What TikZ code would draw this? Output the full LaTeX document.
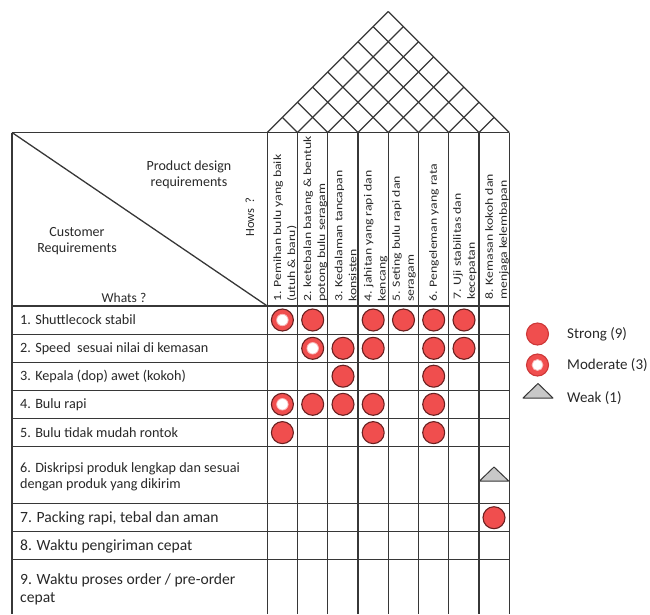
\documentclass[tikz,border=0pt]{standalone}
\usepackage{fontspec}
\setmainfont{Carlito}
\definecolor{linec}{RGB}{55,55,55}
\definecolor{redf}{RGB}{240,78,78}
\definecolor{redd}{RGB}{105,32,32}
\definecolor{redl}{RGB}{205,55,55}
\definecolor{txtc}{RGB}{40,40,40}
\definecolor{weakf}{RGB}{200,200,200}
\begin{document}
\begin{tikzpicture}[x=1pt,y=-1pt,line join=round,
  grid/.style={draw=linec,line width=1.3pt},
  strong/.style={circle,fill=redf,draw=redd,line width=1.1pt,minimum size=22pt,inner sep=0pt},
  hole/.style={circle,fill=white,draw=redf!40,line width=0.8pt,minimum size=11.5pt,inner sep=0pt},
  lstrong/.style={circle,fill=redf,draw=redl,line width=1.1pt,minimum size=22pt,inner sep=0pt},
  weak/.style={fill=weakf,draw=linec,line width=1pt},
  hdr/.style={rotate=90,xscale=1.25,anchor=west,align=left,inner sep=0pt,text=txtc,
    font=\fontsize{11}{14}\selectfont},
  rowa/.style={anchor=west,align=left,inner sep=0pt,text=txtc,font=\fontsize{14.2}{16}\selectfont},
  rowb/.style={anchor=west,align=left,inner sep=0pt,text=txtc,font=\fontsize{15.6}{18}\selectfont},
  lbl/.style={align=center,inner sep=0pt,text=txtc,font=\fontsize{14}{16}\selectfont},
  leg/.style={anchor=west,inner sep=0pt,text=txtc,font=\fontsize{15}{17}\selectfont}]
\useasboundingbox (0,0) rectangle (650,614);

% ---------- roof ----------
\foreach \i in {0,...,8}{
  \pgfmathsetmacro\xi{267.3+30.25*\i}
  \draw[grid] (\xi,132.5) -- ({(\xi+509.3)/2},{132.5-(509.3-\xi)/2});
  \draw[grid] (\xi,132.5) -- ({(\xi+267.3)/2},{132.5-(\xi-267.3)/2});
}

% ---------- grid ----------
\draw[grid] (12,132.5) -- (509.3,132.5);
\foreach \y in {306,334.3,362.3,390.3,418.3,446.7,503.3,531.7,559.3}
  \draw[grid] (12,\y) -- (509.3,\y);
\draw[grid] (12,132.5) -- (12,614);
\foreach \i in {0,...,8}{
  \pgfmathsetmacro\xi{267.3+30.25*\i}
  \draw[grid] (\xi,132.5) -- (\xi,614);
}
\draw[grid] (12,132.5) -- (267.3,306);

% ---------- corner labels ----------
\node[lbl] (pdr) at (189,175) {Product design\\requirements};
\node[lbl] (cust) at (77,241) {Customer\\Requirements};
\node[lbl,font=\fontsize{13.5}{15}\selectfont] (whats) at (124,298) {Whats ?};
\node[lbl,rotate=90,font=\fontsize{12.5}{14}\selectfont] (hows) at (250,217) {Hows\ \ ?};

% ---------- column headers ----------
\node[hdr] (h1) at (285,302) {1. Pemihan bulu yang baik\\(utuh \& baru)};
\node[hdr] (h2) at (315.3,302) {2. ketebalan batang \& bentuk\\potong bulu seragam};
\node[hdr] (h3) at (345.5,302) {3. Kedalaman tancapan\\konsisten};
\node[hdr] (h4) at (375.8,302) {4. jahitan yang rapi dan\\kencang};
\node[hdr] (h5) at (404,302) {5. Seting bulu rapi dan\\seragam};
\node[hdr] (h6) at (434,302) {6. Pengeleman yang rata};
\node[hdr] (h7) at (465,300) {7. Uji stabilitas dan\\kecepatan};
\node[hdr] (h8) at (497,300) {8. Kemasan kokoh dan\\menjaga kelembapan};

% ---------- customer requirements ----------
\node[rowa] (r1) at (20,320) {1. Shuttlecock stabil};
\node[rowa] (r2) at (20,348.5) {2. Speed\ \ sesuai nilai di kemasan};
\node[rowa] (r3) at (20,376.5) {3. Kepala (dop) awet (kokoh)};
\node[rowa] (r4) at (20,404.5) {4. Bulu rapi};
\node[rowa] (r5) at (20,432.5) {5. Bulu tidak mudah rontok};
\node[rowa] (r6) at (20,477) {6. Diskripsi produk lengkap dan sesuai\\dengan produk yang dikirim};
\node[rowb] (r7) at (20,518) {7. Packing rapi, tebal dan aman};
\node[rowb] (r8) at (20,546) {8. Waktu pengiriman cepat};
\node[rowb] (r9) at (20,589) {9. Waktu proses order / pre-order\\cepat};

% ---------- relationships ----------
% row 1
\node[strong] (a11) at (282.4,320) {}; \node[hole] (a11h) at (a11) {};
\node[strong] (a12) at (312.7,320) {};
\node[strong] (a14) at (373.2,320) {};
\node[strong] (a15) at (403.5,320) {};
\node[strong] (a16) at (433.7,320) {};
\node[strong] (a17) at (464,320) {};
% row 2
\node[strong] (a22) at (312.7,348.3) {}; \node[hole] (a22h) at (a22) {};
\node[strong] (a23) at (343,348.3) {};
\node[strong] (a24) at (373.2,348.3) {};
\node[strong] (a26) at (433.7,348.3) {};
\node[strong] (a27) at (464,348.3) {};
% row 3
\node[strong] (a33) at (343,376.2) {};
\node[strong] (a36) at (433.7,376.2) {};
% row 4
\node[strong] (a41) at (282.4,404.3) {}; \node[hole] (a41h) at (a41) {};
\node[strong] (a42) at (312.7,404.3) {};
\node[strong] (a43) at (343,404.3) {};
\node[strong] (a44) at (373.2,404.3) {};
\node[strong] (a46) at (433.7,404.3) {};
% row 5
\node[strong] (a51) at (282.4,432.6) {};
\node[strong] (a54) at (373.2,432.6) {};
\node[strong] (a56) at (433.7,432.6) {};
% row 6 weak
\coordinate (w6l) at (479.5,481);
\coordinate (w6t) at (494,467);
\coordinate (w6r) at (508.7,481);
\draw[weak] (w6l) -- (w6t) -- (w6r) -- cycle;
% row 7
\node[strong] (a78) at (494,517.7) {};

% ---------- legend ----------
\node[lstrong] (ls) at (537.5,334) {};
\node[leg] (lst) at (567,334) {Strong (9)};
\node[lstrong] (lm) at (537.5,365) {}; \node[hole,minimum size=11pt] (lmh) at (lm) {};
\node[leg] (lmt) at (567,365) {Moderate (3)};
\coordinate (lwl) at (523,398);
\coordinate (lwt) at (538,383.5);
\coordinate (lwr) at (553,398);
\draw[weak] (lwl) -- (lwt) -- (lwr) -- cycle;
\node[leg] (lwtx) at (567,398) {Weak (1)};
\end{tikzpicture}
\end{document}
